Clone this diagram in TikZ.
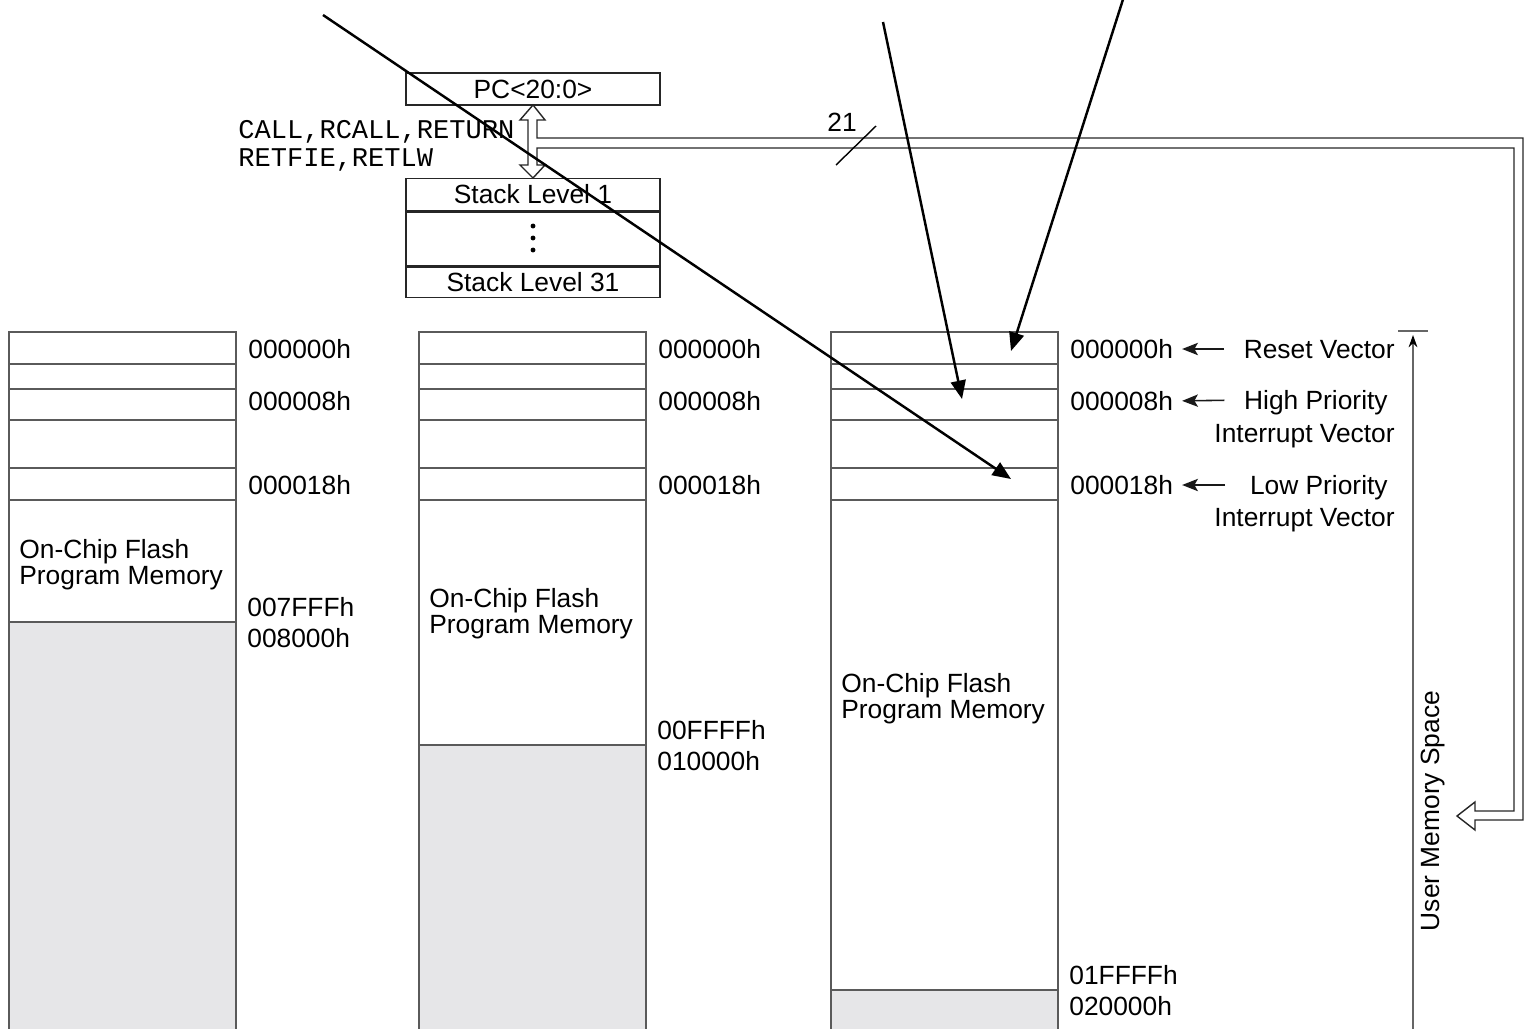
\documentclass[tikz,border=0pt]{standalone}
\usepackage{fontspec}
\setmainfont{Liberation Sans}
\setmonofont{Liberation Mono}
\usetikzlibrary{arrows.meta,positioning}

\definecolor{memgray}{RGB}{230,230,232}
\definecolor{memline}{RGB}{90,90,90}

\tikzset{
  memline/.style={draw=memline, line width=0.8pt},
  regbox/.style={draw=black!85, line width=0.8pt, minimum width=5.08cm, inner sep=0pt,
    font=\fontsize{15}{15}\selectfont},
  addr/.style={anchor=west, inner sep=0pt, text height=10.8pt, text depth=0pt,
    font=\fontsize{15}{15}\selectfont},
  veclabel/.style={anchor=east, inner sep=0pt, text height=10.8pt, text depth=0pt,
    font=\fontsize{15}{15}\selectfont},
  memtext/.style={anchor=north west, align=left, inner sep=0pt,
    font=\fontsize{15}{14.7}\selectfont},
  vecarrow/.style={-{Stealth[length=9pt,width=7pt,inset=2pt]}, line width=0.9pt, draw=black!90},
  pointer/.style={-{Triangle[length=10.5pt,width=8.5pt]}, line width=1.4pt},
}

\begin{document}
\begin{tikzpicture}[x=0.02cm, y=-0.02cm]
\useasboundingbox (0,0) rectangle (1531,1028);
\clip (0,0) rectangle (1531,1028);

% program counter and stack
\node[regbox, minimum height=0.64cm] (pc) at (533,89) {PC<20:0>};
\node[regbox, minimum height=0.65cm] (lvl1) at (533,194.5) {Stack Level 1};
\node[regbox, minimum height=1.08cm, below=0pt of lvl1] (gap) {};
\node[regbox, minimum height=0.6cm, below=0pt of gap] (lvl31) {Stack Level 31};
\foreach \d in {226,238,250}
  \fill (533,\d) circle[radius=1.4pt];

\node[anchor=north west, inner sep=0pt, align=left, font=\ttfamily\fontsize{15.4}{15.9}\selectfont]
  (ops) at (238,120) {CALL,RCALL,RETURN\\RETFIE,RETLW};

% hollow bus arrow
\draw[draw=black!85, line width=0.8pt]
  (537,138) -- (537,120) -- (545,120) -- (533,105) -- (520,120) -- (528,120)
  -- (528,165) -- (520,165) -- (533,178) -- (545,165) -- (537,165) -- (537,148)
  -- (1514,148) -- (1514,811) -- (1475,811) -- (1475,802) -- (1457,816)
  -- (1475,830) -- (1475,820) -- (1523,820) -- (1523,138) -- cycle;
\draw[line width=0.8pt] (836,165) -- (876,126);
\node[inner sep=0pt, font=\fontsize{15}{15}\selectfont] (width) at (842,122) {21};

% memory maps
\foreach \cx/\gy/\lo/\hi/\ty [count=\i] in
  {9/622/007FFFh/008000h/539, 419/745/00FFFFh/010000h/588, 831/990/01FFFFh/020000h/673} {
  \fill[memgray] (\cx,\gy) rectangle ++(227,60+1028-\gy);
  \draw[memline] (\cx,1040) -- (\cx,332) -- (\cx+227,332) -- (\cx+227,1040);
  \foreach \ry in {364,389,420,468,500,\gy}
    \draw[memline] (\cx,\ry) -- ++(227,0);
  \node[addr] (a0-\i) at (\cx+239,349) {000000h};
  \node[addr] (a8-\i) at (\cx+239,401) {000008h};
  \node[addr] (a18-\i) at (\cx+239,485) {000018h};
  \node[addr] (top-\i) at (\cx+238,\gy-15) {\lo};
  \node[addr] (end-\i) at (\cx+238,\gy+16) {\hi};
  \node[memtext] (flash-\i) at (\cx+10,\ty) {On-Chip Flash\\Program Memory};
}

% vectors
\node[veclabel] (rst) at (1395,349) {Reset Vector};
\node[veclabel] (hipri) at (1388,400) {High Priority};
\node[veclabel] (hiint) at (1395,433) {Interrupt Vector};
\node[veclabel] (lopri) at (1388,485) {Low Priority};
\node[veclabel] (loint) at (1395,517) {Interrupt Vector};
\draw[vecarrow, shorten <=11pt, shorten >=5pt] (rst.west) -- (a0-3.east);
\draw[vecarrow, shorten <=11pt, shorten >=5pt] (hipri.west) -- (a8-3.east);
\draw[vecarrow, shorten <=14pt, shorten >=5pt] (lopri.west) -- (a18-3.east);

% user memory space
\draw[draw=black!60, line width=0.8pt] (1398,331) -- (1428,331);
\draw[draw=black!60, line width=0.8pt, -{Stealth[length=7pt,width=5pt,color=black]}]
  (1413,1040) -- (1413,335);
\node[rotate=90, inner sep=0pt, font=\fontsize{15}{15}\selectfont] (ums) at (1433,811) {User Memory Space};

% pointers from above
\coordinate (from-lo) at (323,15);
\coordinate (to-lo) at (1011,479);
\coordinate (from-hi) at (883,22);
\coordinate (to-hi) at (962,399);
\coordinate (from-rst) at (1126,-10);
\coordinate (to-rst) at (1011,351);
\draw[pointer] (from-lo) -- (to-lo);
\draw[pointer] (from-hi) -- (to-hi);
\draw[pointer] (from-rst) -- (to-rst);
\end{tikzpicture}
\end{document}
